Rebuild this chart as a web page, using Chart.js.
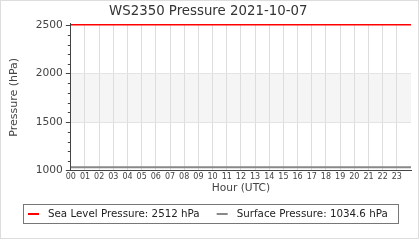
<!DOCTYPE html>
<html>
<head>
<meta charset="utf-8">
<script src="https://cdn.jsdelivr.net/npm/chart.js@4/dist/chart.umd.min.js"></script>
<style>
  html, body { margin: 0; padding: 0; background: #fff; }
  #wrap { width: 420px; height: 240px; position: relative; }
</style>
</head>
<body>
<div id="wrap"><canvas id="chart"></canvas></div>
<script>
// === Data ===
const hours = [0, 1, 2, 3, 4, 5, 6, 7, 8, 9, 10, 11, 12, 13, 14, 15, 16, 17, 18, 19, 20, 21, 22, 23, 24];
const seaLevel = [2512, 2512, 2512, 2512, 2512, 2512, 2512, 2512, 2512, 2512, 2512, 2512, 2512,
                  2512, 2512, 2512, 2512, 2512, 2512, 2512, 2512, 2512, 2512, 2512, 2512];
const surface = [1034.6, 1034.6, 1034.6, 1034.6, 1034.6, 1034.6, 1034.6, 1034.6, 1034.6, 1034.6, 1034.6, 1034.6, 1034.6,
                 1034.6, 1034.6, 1034.6, 1034.6, 1034.6, 1034.6, 1034.6, 1034.6, 1034.6, 1034.6, 1034.6, 1034.6];
const seriesLabels = ['Sea Level Pressure: 2512 hPa', 'Surface Pressure: 1034.6 hPa'];
const hourTickLabels = ['00', '01', '02', '03', '04', '05', '06', '07', '08', '09', '10', '11',
                        '12', '13', '14', '15', '16', '17', '18', '19', '20', '21', '22', '23'];
const shadedBand = [1500, 2000];

const FONT = 'DejaVu Sans';
const TEXT = '#444444';
const AXIS = '#444444';

// === Plugins ===
const bandPlugin = {
    id: 'bandPlugin',
    beforeDraw(chart) {
        const { ctx, chartArea, scales } = chart;
        const yTop = scales.y.getPixelForValue(shadedBand[1]);
        const yBot = scales.y.getPixelForValue(shadedBand[0]);
        ctx.save();
        ctx.fillStyle = '#f5f5f5';
        ctx.fillRect(chartArea.left, yTop, chartArea.right - chartArea.left, yBot - yTop);
        ctx.restore();
    }
};

const minorTickPlugin = {
    id: 'minorTickPlugin',
    afterDraw(chart) {
        const { ctx, scales } = chart;
        const y = scales.y;
        ctx.save();
        ctx.strokeStyle = AXIS;
        ctx.lineWidth = 1;
        y.ticks.forEach(t => {
            if (t.value % 500 === 0) return;
            const py = Math.round(y.getPixelForValue(t.value)) + 0.5;
            ctx.beginPath();
            ctx.moveTo(y.right - 3, py);
            ctx.lineTo(y.right, py);
            ctx.stroke();
        });
        ctx.restore();
    }
};

const boxLegendPlugin = {
    id: 'boxLegendPlugin',
    afterDraw(chart) {
        const { ctx } = chart;
        ctx.save();
        ctx.font = `10.3px "${FONT}"`;
        const lineLen = 11, lineGap = 9, itemGap = 17, padL = 5, padR = 10;
        const items = chart.data.datasets.map(ds => ({
            text: ds.label, color: ds.borderColor, w: ctx.measureText(ds.label).width
        }));
        let total = padL + padR;
        items.forEach((it, i) => { total += lineLen + lineGap + it.w + (i ? itemGap : 0); });
        const boxTop = 204, boxH = 19;
        const boxLeft = Math.round(chart.width / 2 - total / 2);
        ctx.strokeStyle = '#777777';
        ctx.lineWidth = 1;
        ctx.strokeRect(boxLeft + 0.5, boxTop + 0.5, Math.round(total), boxH);
        let x = boxLeft + padL;
        const cy = boxTop + boxH / 2 + 0.5;
        items.forEach((it, i) => {
            if (i) x += itemGap;
            ctx.strokeStyle = it.color;
            ctx.lineWidth = 2;
            ctx.beginPath();
            ctx.moveTo(x, cy);
            ctx.lineTo(x + lineLen, cy);
            ctx.stroke();
            x += lineLen + lineGap;
            ctx.fillStyle = '#222222';
            ctx.textBaseline = 'middle';
            ctx.fillText(it.text, x, cy);
            x += it.w;
        });
        // outer frame
        ctx.strokeStyle = '#dddddd';
        ctx.lineWidth = 1;
        ctx.strokeRect(0.5, 0.5, chart.width - 2, chart.height - 2);
        ctx.restore();
    }
};

// === Chart ===
const ctx = document.getElementById('chart').getContext('2d');

new Chart(ctx, {
    type: 'line',
    data: {
        labels: hours,
        datasets: [
            {
                label: seriesLabels[0],
                data: hours.map((h, i) => ({ x: h, y: seaLevel[i] })),
                borderColor: '#ff0000',
                borderWidth: 3,
                pointRadius: 0,
                tension: 0
            },
            {
                label: seriesLabels[1],
                data: hours.map((h, i) => ({ x: h, y: surface[i] })),
                borderColor: '#888888',
                borderWidth: 2,
                pointRadius: 0,
                tension: 0
            }
        ]
    },
    options: {
        responsive: true,
        maintainAspectRatio: false,
        animation: false,
        layout: { padding: { left: 5.5, right: 9, top: 0, bottom: 46.5 } },
        scales: {
            x: {
                type: 'linear',
                min: 0,
                max: 24,
                border: { color: AXIS, width: 1 },
                grid: {
                    drawTicks: false,
                    color: c => (c.tick && c.tick.value > 0 && c.tick.value < 24) ? '#dddddd' : 'rgba(0,0,0,0)'
                },
                ticks: {
                    stepSize: 1,
                    autoSkip: false,
                    maxRotation: 0,
                    padding: 2,
                    color: TEXT,
                    font: { family: FONT, size: 8 },
                    callback: v => hourTickLabels[v] !== undefined ? hourTickLabels[v] : ''
                },
                title: {
                    display: true,
                    text: 'Hour (UTC)',
                    color: TEXT,
                    font: { family: FONT, size: 10.67 },
                    padding: { top: -2.5, bottom: -1 }
                }
            },
            y: {
                min: 1000,
                max: 2512,
                border: { color: AXIS, width: 1 },
                grid: {
                    tickLength: 5,
                    tickColor: c => (c.tick && c.tick.value % 500 === 0) ? AXIS : 'rgba(0,0,0,0)',
                    color: c => (c.tick && (c.tick.value === shadedBand[0] || c.tick.value === shadedBand[1])) ? '#e4e4e4' : 'rgba(0,0,0,0)'
                },
                ticks: {
                    stepSize: 100,
                    includeBounds: false,
                    autoSkip: false,
                    padding: 3,
                    color: TEXT,
                    font: { family: FONT, size: 10.67 },
                    callback: v => v % 500 === 0 ? String(v) : ''
                },
                title: {
                    display: true,
                    text: 'Pressure (hPa)',
                    color: TEXT,
                    font: { family: FONT, size: 11 },
                    padding: { top: 2, bottom: 12 }
                }
            }
        },
        plugins: {
            legend: { display: false },
            tooltip: { enabled: false },
            title: {
                display: true,
                text: 'WS2350 Pressure 2021-10-07',
                color: '#333333',
                font: { family: FONT, size: 13.33, weight: 'normal' },
                padding: { top: 4, bottom: 4 }
            }
        }
    },
    plugins: [bandPlugin, minorTickPlugin, boxLegendPlugin]
});
</script>
</body>
</html>
